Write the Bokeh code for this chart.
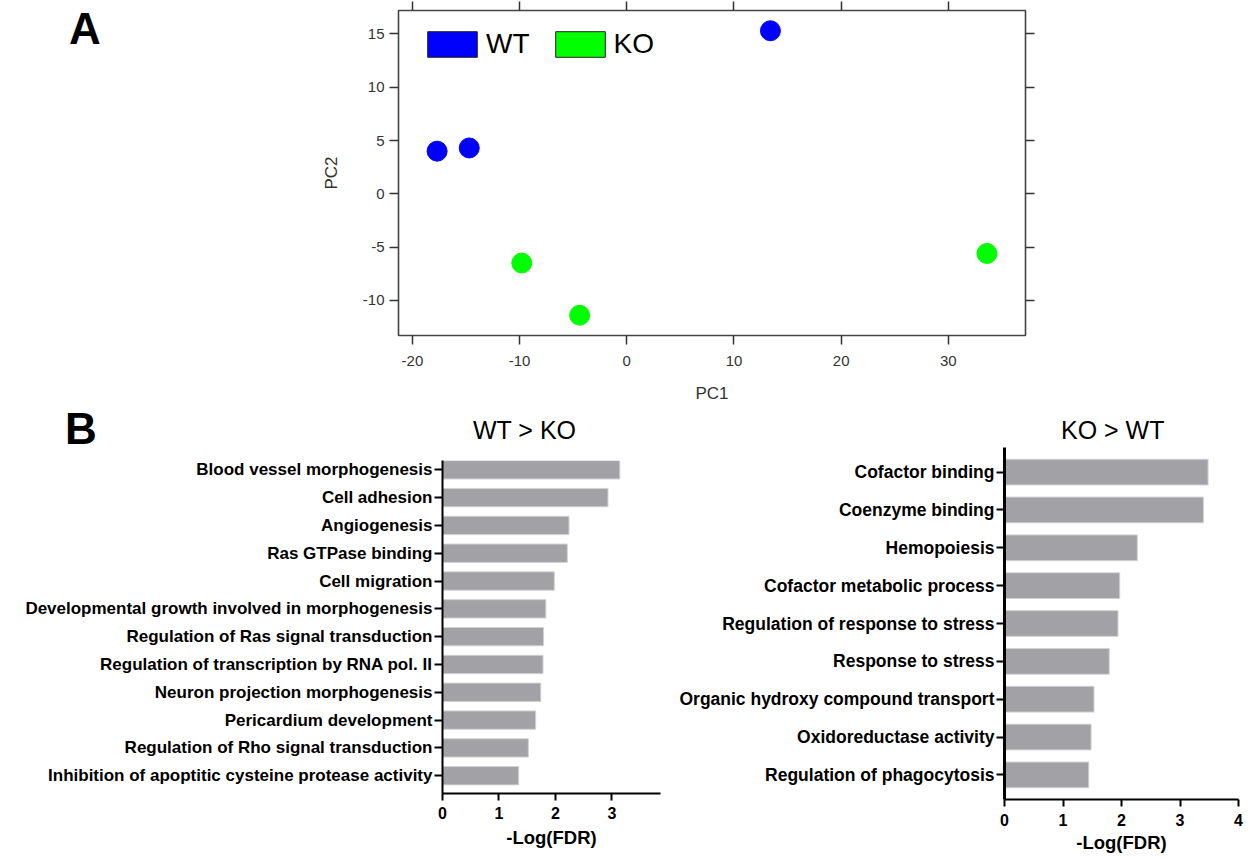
from bokeh.plotting import figure
from bokeh.models import Range1d, LinearAxis, FixedTicker, Legend, LegendItem, Div
from bokeh.layouts import column, row
from bokeh.embed import file_html
from bokeh.resources import INLINE

# ---------------- data ----------------
wt_pc1 = [-17.7, -14.7, 13.4]
wt_pc2 = [4.0, 4.3, 15.3]
ko_pc1 = [-9.8, -4.4, 33.6]
ko_pc2 = [-6.5, -11.4, -5.6]
pc1_ticks = [-20, -10, 0, 10, 20, 30]
pc2_ticks = [-10, -5, 0, 5, 10, 15]

wt_ko_terms = [
    "Blood vessel morphogenesis",
    "Cell adhesion",
    "Angiogenesis",
    "Ras GTPase binding",
    "Cell migration",
    "Developmental growth involved in morphogenesis",
    "Regulation of Ras signal transduction",
    "Regulation of transcription by RNA pol. II",
    "Neuron projection morphogenesis",
    "Pericardium development",
    "Regulation of Rho signal transduction",
    "Inhibition of apoptitic cysteine protease activity",
]
wt_ko_values = [3.14, 2.93, 2.24, 2.21, 1.98, 1.83, 1.79, 1.78, 1.74, 1.65, 1.52, 1.35]

ko_wt_terms = [
    "Cofactor binding",
    "Coenzyme binding",
    "Hemopoiesis",
    "Cofactor metabolic process",
    "Regulation of response to stress",
    "Response to stress",
    "Organic hydroxy compound transport",
    "Oxidoreductase activity",
    "Regulation of phagocytosis",
]
ko_wt_values = [3.48, 3.40, 2.27, 1.97, 1.94, 1.79, 1.53, 1.48, 1.44]

fdr_ticks_left = [0, 1, 2, 3]
fdr_ticks_right = [0, 1, 2, 3, 4]

panel_letters = ["A", "B"]
bar_titles = ["WT > KO", "KO > WT"]

FONT = "Liberation Sans"
BAR_FILL = "#a2a1a6"
BAR_LINE = "#d2d2d4"


def text_div(width, height, pieces):
    """Div holding absolutely placed captions: pieces = (text, left, top, size, weight)."""
    spans = "".join(
        f'<span style="position:absolute;left:{l}px;top:{t}px;font-family:\'{FONT}\',Arial,sans-serif;'
        f'font-size:{s}px;line-height:{s}px;font-weight:{w};color:#000;white-space:nowrap;">{txt}</span>'
        for (txt, l, t, s, w) in pieces)
    html = f'<div style="position:relative;width:{width}px;height:{height}px;">{spans}</div>'
    return Div(text=html, width=width, height=height, margin=0)


def hide_labels(ticks):
    return {t: "" for t in ticks}


# ---------------- panel A ----------------
pa = figure(width=940, height=405, x_range=Range1d(-21.3, 37.2), y_range=Range1d(-13.3, 17.2),
            output_backend="svg", toolbar_location=None,
            min_border_left=88, min_border_right=225, min_border_top=10, min_border_bottom=70)
pa.grid.visible = False
pa.outline_line_color = "#444444"
pa.outline_line_width = 1.6

for ax in (pa.xaxis[0], pa.yaxis[0]):
    ax.axis_line_color = None
    ax.major_tick_line_color = "#333333"
    ax.major_tick_line_width = 1.5
    ax.major_tick_out = 9
    ax.major_tick_in = 0
    ax.minor_tick_line_color = None
    ax.major_label_text_font = FONT
    ax.major_label_text_font_size = "15px"
    ax.major_label_text_color = "#333333"
    ax.axis_label_text_font = FONT
    ax.axis_label_text_font_size = "17px"
    ax.axis_label_text_font_style = "normal"
    ax.axis_label_text_color = "#333333"
pa.xaxis.ticker = FixedTicker(ticks=pc1_ticks)
pa.yaxis.ticker = FixedTicker(ticks=pc2_ticks)
pa.xaxis.major_label_overrides = {t: str(t) for t in pc1_ticks}
pa.yaxis.major_label_overrides = {t: str(t) for t in pc2_ticks}
pa.xaxis.axis_label = "PC1"
pa.yaxis.axis_label = "PC2"
pa.xaxis.major_label_standoff = 11
pa.xaxis.axis_label_standoff = 15
pa.yaxis.major_label_standoff = 5
pa.yaxis.axis_label_standoff = 19

top_ax = LinearAxis(ticker=FixedTicker(ticks=pc1_ticks), axis_line_color=None,
                    major_tick_out=9, major_tick_in=0, major_tick_line_color="#333333",
                    major_tick_line_width=1.5, minor_tick_line_color=None,
                    major_label_overrides=hide_labels(pc1_ticks),
                    major_label_text_font_size="1px", major_label_text_color=None,
                    major_label_standoff=0)
right_ax = LinearAxis(ticker=FixedTicker(ticks=pc2_ticks), axis_line_color=None,
                      major_tick_out=9, major_tick_in=0, major_tick_line_color="#333333",
                      major_tick_line_width=1.5, minor_tick_line_color=None,
                      major_label_overrides=hide_labels(pc2_ticks),
                      major_label_text_font_size="1px", major_label_text_color=None,
                      major_label_standoff=0)
pa.add_layout(top_ax, "above")
pa.add_layout(right_ax, "right")

# legend swatches (zero-area, hidden beneath the points)
leg_wt = pa.quad(left=wt_pc1, right=wt_pc1, top=wt_pc2, bottom=wt_pc2,
                 fill_color="#0000ff", line_color="#222222", line_width=1)
leg_ko = pa.quad(left=ko_pc1, right=ko_pc1, top=ko_pc2, bottom=ko_pc2,
                 fill_color="#00ff00", line_color="#222222", line_width=1)

pa.scatter(wt_pc1, wt_pc2, size=20, fill_color="#0000ff", line_color="#0000ff")
pa.scatter(ko_pc1, ko_pc2, size=20, fill_color="#00ff00", line_color="#00ff00")

legend = Legend(items=[LegendItem(label="WT", renderers=[leg_wt]),
                       LegendItem(label="KO", renderers=[leg_ko])],
                orientation="horizontal", location=(23, 275),
                glyph_width=62, glyph_height=32, label_height=26,
                label_text_font=FONT, label_text_font_size="28px", label_text_color="#000000",
                label_standoff=3, spacing=19, padding=0, margin=0,
                border_line_color=None, background_fill_alpha=0)
pa.add_layout(legend, "center")

div_a = text_div(310, 405, [(panel_letters[0], 69, 7, 44, "bold")])


# ---------------- panel B helper ----------------
def bar_panel(terms, values, ticks, width, height, x_end, y_start, y_end, borders,
              bar_h, axis_w, label_size, tick_standoff, xlabel_standoff):
    p = figure(width=width, height=height, x_range=Range1d(0, x_end), y_range=Range1d(y_start, y_end),
               output_backend="svg", toolbar_location=None,
               min_border_left=borders[0], min_border_right=borders[1],
               min_border_top=borders[2], min_border_bottom=borders[3])
    p.grid.visible = False
    p.outline_line_color = None
    idx = list(range(len(terms)))
    p.hbar(y=idx, left=0, right=values, height=bar_h, fill_color=BAR_FILL, line_color=BAR_LINE, line_width=1)

    ya = p.yaxis[0]
    ya.ticker = FixedTicker(ticks=idx)
    ya.major_label_overrides = {i: t for i, t in zip(idx, terms)}
    ya.axis_line_width = axis_w
    ya.axis_line_color = "#000000"
    ya.major_tick_out = 8
    ya.major_tick_in = 0
    ya.major_tick_line_width = 2
    ya.major_tick_line_color = "#000000"
    ya.minor_tick_line_color = None
    ya.major_label_standoff = 2
    ya.major_label_text_font = FONT
    ya.major_label_text_font_style = "bold"
    ya.major_label_text_font_size = label_size
    ya.major_label_text_color = "#000000"

    xa = p.xaxis[0]
    xa.ticker = FixedTicker(ticks=ticks)
    xa.axis_line_width = 2
    xa.axis_line_color = "#000000"
    xa.major_tick_out = 7
    xa.major_tick_in = 0
    xa.major_tick_line_width = 2
    xa.major_tick_line_color = "#000000"
    xa.minor_tick_line_color = None
    xa.major_label_standoff = tick_standoff
    xa.major_label_text_font = FONT
    xa.major_label_text_font_style = "bold"
    xa.major_label_text_font_size = "16px"
    xa.major_label_text_color = "#000000"
    xa.axis_label = "-Log(FDR)"
    xa.axis_label_text_font = FONT
    xa.axis_label_text_font_style = "bold"
    xa.axis_label_text_font_size = "18.5px"
    xa.axis_label_text_color = "#000000"
    xa.axis_label_standoff = xlabel_standoff
    return p


pbl = bar_panel(wt_ko_terms, wt_ko_values, fdr_ticks_left, 665, 396, 3.86, 11.64, -0.335,
                (442, 5, 5, 58), 0.66, 2, "17px", 6, 5)
div_bl = text_div(665, 50, [(panel_letters[1], 65, 2, 44, "bold"),
                            (bar_titles[0], 473, 13, 25, "normal")])

pbr = bar_panel(ko_wt_terms, ko_wt_values, fdr_ticks_right, 585, 415, 4.0, 8.65, -0.65,
                (339, 12, 5, 58), 0.68, 3, "17.5px", 7, 3)
div_br = text_div(585, 37, [(bar_titles[1], 396, 13, 25, "normal")])

layout = column(row(div_a, pa), row(column(div_bl, pbl), column(div_br, pbr)))
open("out.html", "w").write(file_html(layout, INLINE))
